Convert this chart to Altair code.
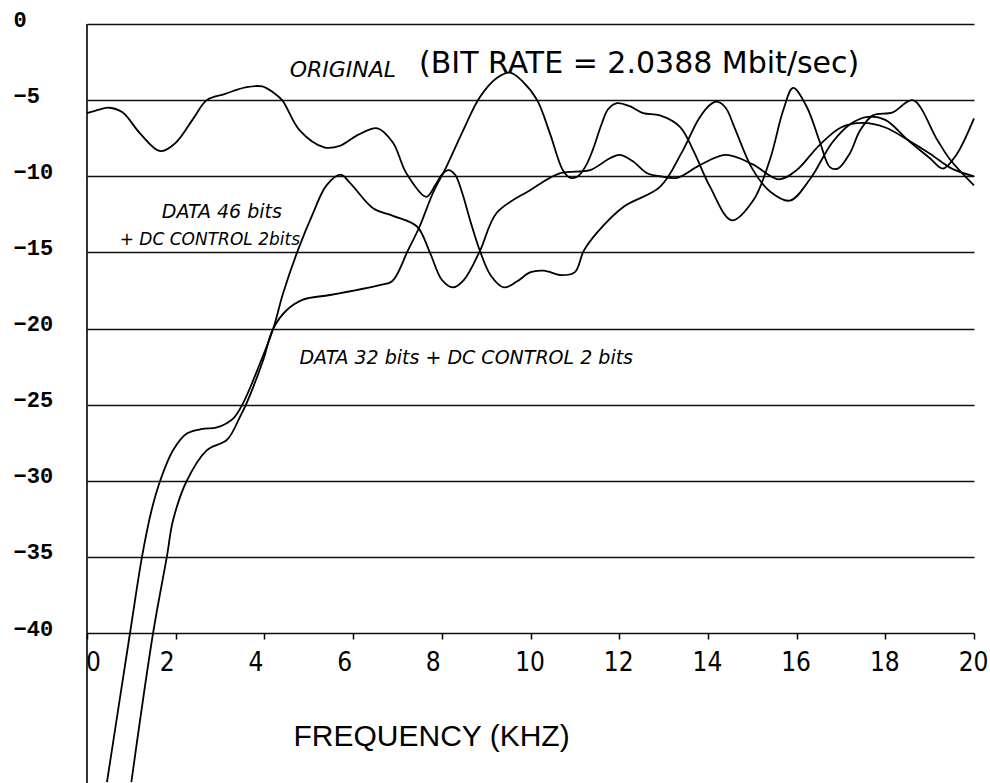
import altair as alt
import pandas as pd

# ---- data (frequency in kHz, level in dB) ----
orig_f = [0.0, 0.3, 0.5, 0.8, 1.2, 1.65, 2.0, 2.4, 2.7, 3.1, 3.6, 3.95, 4.2, 4.4, 4.8, 5.35, 5.7, 6.1,
          6.55, 6.9, 7.2, 7.65, 7.85, 8.0, 8.15, 8.3, 8.45, 8.65, 8.86, 9.1, 9.4, 9.7, 10.0, 10.3, 10.7,
          11.0, 11.2, 11.5, 12.1, 12.92, 13.4, 13.8, 14.05, 14.2, 14.4, 14.6, 15.0, 15.4, 15.85, 16.3,
          16.8, 17.2, 17.6, 18.0, 18.5, 19.0, 19.3, 19.6, 20.0]
orig_db = [-5.85, -5.6, -5.5, -5.8, -7.2, -8.35, -7.8, -6.2, -5.0, -4.6, -4.15, -4.1, -4.5, -5.0, -7.0,
           -8.1, -8.0, -7.3, -6.85, -7.8, -9.8, -11.35, -10.6, -9.9, -9.6, -9.9, -11.0, -13.0, -14.9,
           -16.5, -17.3, -16.9, -16.3, -16.2, -16.5, -16.3, -14.9, -13.7, -12.0, -10.7, -8.5, -6.2,
           -5.3, -5.1, -5.5, -6.8, -9.5, -11.0, -11.6, -10.2, -7.8, -6.6, -6.1, -6.3, -7.6, -8.8, -9.5,
           -8.6, -6.2]

d46_f = [0.45, 0.97, 1.24, 1.45, 1.65, 1.94, 2.25, 2.6, 2.93, 3.3, 3.52, 3.9, 4.2, 4.42, 4.75, 5.1, 5.4,
         5.72, 5.95, 6.45, 6.9, 7.44, 7.73, 8.0, 8.25, 8.5, 8.86, 9.24, 10.0, 10.67, 11.34, 11.8, 12.02,
         12.3, 12.63, 12.92, 13.3, 13.8, 14.4, 15.0, 15.6, 16.0, 16.5, 17.0, 17.5, 18.0, 18.5, 19.0,
         19.5, 20.0]
d46_db = [-49.8, -40.0, -35.0, -32.0, -30.0, -28.0, -26.9, -26.6, -26.5, -25.9, -24.9, -22.3, -20.0,
          -17.7, -14.9, -12.4, -10.6, -9.9, -10.5, -12.1, -12.6, -13.3, -15.0, -16.8, -17.3, -16.8,
          -14.9, -12.4, -10.9, -9.8, -9.6, -8.8, -8.6, -9.0, -9.8, -10.0, -10.1, -9.3, -8.6, -9.2,
          -10.2, -9.6, -8.0, -6.8, -6.5, -6.8, -7.6, -8.5, -9.5, -10.0]

d32_f = [1.0, 1.49, 1.8, 1.94, 2.25, 2.7, 3.16, 3.45, 3.6, 3.97, 4.2, 4.5, 4.87, 5.48, 6.6, 6.88, 7.24,
         7.5, 7.8, 8.1, 8.48, 8.86, 9.24, 9.54, 9.83, 10.15, 10.44, 10.73, 10.9, 11.07, 11.25, 11.4,
         11.6, 11.75, 11.95, 12.24, 12.54, 12.92, 13.37, 13.67, 14.05, 14.54, 15.02, 15.4, 15.7, 15.92,
         16.23, 16.53, 16.75, 16.93, 17.2, 17.43, 17.72, 18.17, 18.62, 19.17, 19.46, 20.0]
d32_db = [-49.8, -40.0, -35.0, -32.6, -30.0, -28.0, -27.3, -25.8, -24.9, -22.1, -20.0, -18.8, -18.1,
          -17.8, -17.15, -16.9, -14.85, -13.3, -11.1, -9.4, -7.0, -4.8, -3.55, -3.2, -3.8, -5.0, -7.2,
          -9.6, -10.1, -10.0, -9.3, -8.3, -6.6, -5.6, -5.2, -5.4, -5.85, -6.0, -6.75, -8.3, -10.7,
          -12.9, -11.6, -8.9, -5.65, -4.2, -5.45, -7.8, -9.4, -9.5, -8.5, -7.0, -6.0, -5.8, -5.0, -7.6,
          -8.9, -10.6]

x_ticks = [0, 2, 4, 6, 8, 10, 12, 14, 16, 18, 20]
y_ticks = [0, -5, -10, -15, -20, -25, -30, -35, -40]

orig_label = ["ORIGINAL"]
orig_label_f = [5.77]
orig_label_db = [-3.02]

note_text = ["DATA 46 bits", "DATA 32 bits + DC CONTROL 2 bits"]
note_f = [3.04, 8.55]
note_db = [-12.35, -21.94]

note2_text = ["+ DC CONTROL 2bits"]
note2_f = [2.77]
note2_db = [-14.19]

title_text = ["(BIT RATE = 2.0388 Mbit/sec)"]
title_f = [12.45]
title_db = [-2.63]

# ---- tables ----
rows = []
for name, fs, ds in [("ORIGINAL", orig_f, orig_db), ("DATA 46", d46_f, d46_db), ("DATA 32", d32_f, d32_db)]:
    for f, d in zip(fs, ds):
        rows.append({"series": name, "freq": f, "db": d})
df = pd.DataFrame(rows)

frame_df = pd.DataFrame({"freq": [0], "top": [0], "bottom": [-50]})

x_scale = alt.Scale(domain=[0, 20], nice=False, zero=False)
y_scale = alt.Scale(domain=[-40, 0], nice=False, zero=False)

x_axis = alt.Axis(
    values=x_ticks, grid=False, domain=False, ticks=True, tickSize=6, tickWidth=1.5,
    tickColor="black", labelFont="Liberation Sans Narrow, DejaVu Sans Condensed, Liberation Sans",
    labelFontSize=26, labelColor="black", labelPadding=23, labelBaseline="middle",
    labelAlign="center", labelFlush=False, format="d",
    labelOffset={"condition": [{"test": "datum.value == 0", "value": 6},
                               {"test": "datum.value < 10", "value": -9}],
                 "value": -1},
    title="FREQUENCY (KHZ)", titleFont="Liberation Sans", titleFontSize=30,
    titleFontWeight="normal", titleColor="black", titleX=206, titleY=112,
    titleAlign="left", titleBaseline="alphabetic",
)
y_axis = alt.Axis(
    values=y_ticks, grid=True, gridColor="#111111", gridWidth=1.7, domain=False, ticks=False,
    labelFont="Liberation Mono, DejaVu Sans Mono", labelFontSize=22, labelColor="black",
    labelFontWeight="bold",
    labelAlign="left", labelPadding=74, labelBaseline="middle", labelOffset=-5, format="d",
    title="",
)

lines = alt.Chart(df).mark_line(
    color="black", strokeWidth=1.8, interpolate="catmull-rom", clip=False
).encode(
    x=alt.X("freq:Q", scale=x_scale, axis=x_axis),
    y=alt.Y("db:Q", scale=y_scale, axis=y_axis),
    detail="series:N",
)

left_edge = alt.Chart(frame_df).mark_rule(color="black", strokeWidth=1.6, clip=False).encode(
    x=alt.X("freq:Q", scale=x_scale),
    y=alt.Y("top:Q", scale=y_scale),
    y2="bottom:Q",
)


def text_layer(texts, fs, ds, size, italic=True):
    tdf = pd.DataFrame({"text": texts, "freq": fs, "db": ds})
    kw = dict(font="DejaVu Sans", fontSize=size, color="black", align="center", baseline="middle")
    if italic:
        kw["fontStyle"] = "italic"
    return alt.Chart(tdf).mark_text(**kw).encode(
        x=alt.X("freq:Q", scale=x_scale),
        y=alt.Y("db:Q", scale=y_scale),
        text="text:N",
    )


chart = alt.layer(
    lines,
    left_edge,
    text_layer(orig_label, orig_label_f, orig_label_db, 22),
    text_layer(note_text, note_f, note_db, 19),
    text_layer(note2_text, note2_f, note2_db, 17),
    text_layer(title_text, title_f, title_db, 30, italic=False),
).properties(
    width=887, height=609,
    padding={"left": 87, "top": 24, "right": 16, "bottom": 150},
    autosize=alt.AutoSizeParams(type="none"),
    background="white",
).configure_view(stroke=None)

chart.save("out.html", embed_options={"renderer": "svg", "actions": False})
